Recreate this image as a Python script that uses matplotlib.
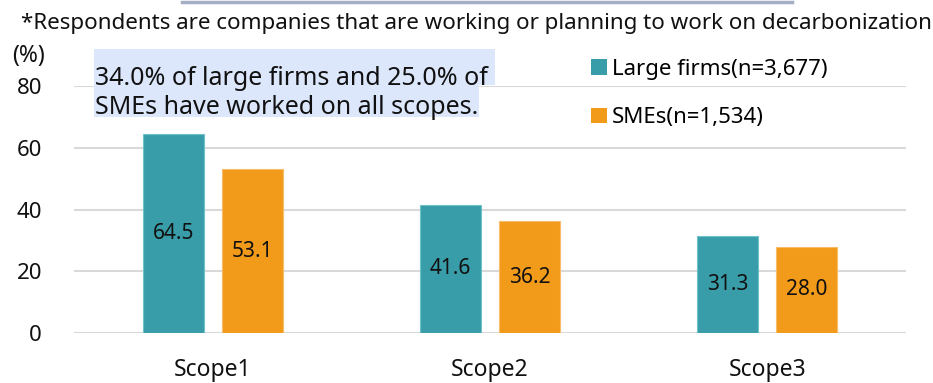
import matplotlib
matplotlib.use("Agg")
import matplotlib.pyplot as plt
from matplotlib.patches import Rectangle
from matplotlib.lines import Line2D
import numpy as np

plt.rcParams['font.family'] = ['Noto Sans', 'DejaVu Sans']

categories = ["Scope1", "Scope2", "Scope3"]
large_firms = [64.5, 41.6, 31.3]
smes = [53.1, 36.2, 28.0]
series_labels = ["Large firms(n=3,677)", "SMEs(n=1,534)"]
yticks = [0, 20, 40, 60, 80]
note_lines = ["34.0% of large firms and 25.0% of", "SMEs have worked on all scopes."]
footnote = "*Respondents are companies that are working or planning to work on decarbonization"

TEAL = "#389da8"
ORANGE = "#f29a1a"
GRID = "#d9d9d9"
INK = "#111111"

W, H = 933, 383
fig = plt.figure(figsize=(W / 100, H / 100), dpi=100)


def fx(px):
    return px / W


def fy(px):
    # pixel rows counted from the top
    return 1 - px / H


ax = fig.add_axes([fx(74), fy(333), fx(832), 247 / H])
x = np.arange(len(categories))
bw = 0.22
off = 0.142
b1 = ax.bar(x - off, large_firms, bw, color=TEAL, edgecolor="#6fc2ca", linewidth=0.8,
            label=series_labels[0], zorder=3)
b2 = ax.bar(x + off, smes, bw, color=ORANGE, edgecolor="#f7bd68", linewidth=0.8,
            label=series_labels[1], zorder=3)

ax.bar_label(b1, labels=[f"{v:.1f}" for v in large_firms], label_type='center', fontsize=15, color=INK)
ax.bar_label(b2, labels=[f"{v:.1f}" for v in smes], label_type='center', fontsize=15, color=INK)

ax.set_xlim(-0.5, 2.5)
ax.set_ylim(0, 80)
ax.set_yticks(yticks)
ax.set_xticks(x, categories)
ax.yaxis.grid(True, color=GRID, linewidth=1.5, zorder=0)
ax.set_axisbelow(True)
for s in ax.spines.values():
    s.set_visible(False)
ax.tick_params(axis='y', length=0, pad=23, labelsize=16, labelcolor=INK)
ax.tick_params(axis='x', length=0, pad=18, labelsize=16.5, labelcolor=INK)

# legend on the right, stacked
leg = ax.legend(handles=[b1, b2], loc='upper left', bbox_to_anchor=(fx(591), fy(59)),
                bbox_transform=fig.transFigure, frameon=False, fontsize=16,
                handlelength=0.7, handleheight=0.7, handletextpad=0.25,
                labelspacing=1.22, borderpad=0, borderaxespad=0)
for h in leg.legend_handles:
    h.set_edgecolor('none')

# top rule and footnote
fig.add_artist(Line2D([fx(182), fx(792)], [fy(1.5), fy(1.5)], color="#a6aec6", linewidth=2.5))
fig.text(fx(21), fy(29), footnote, fontsize=16.1, va='baseline', ha='left', color=INK)
fig.text(fx(12), fy(62), "(%)", fontsize=16.5, va='baseline', ha='left', color=INK)

# highlighted note, one band per line
fig.add_artist(Rectangle((fx(94), fy(85)), fx(401), 36 / H, transform=fig.transFigure,
                         facecolor="#dce7fb", edgecolor='none'))
fig.add_artist(Rectangle((fx(94), fy(117)), fx(385), 32 / H, transform=fig.transFigure,
                         facecolor="#dce7fb", edgecolor='none'))
fig.text(fx(95), fy(85), note_lines[0], fontsize=18, va='baseline', ha='left', color=INK)
fig.text(fx(95), fy(114), note_lines[1], fontsize=18, va='baseline', ha='left', color=INK)

fig.savefig("out.png", dpi=100)
